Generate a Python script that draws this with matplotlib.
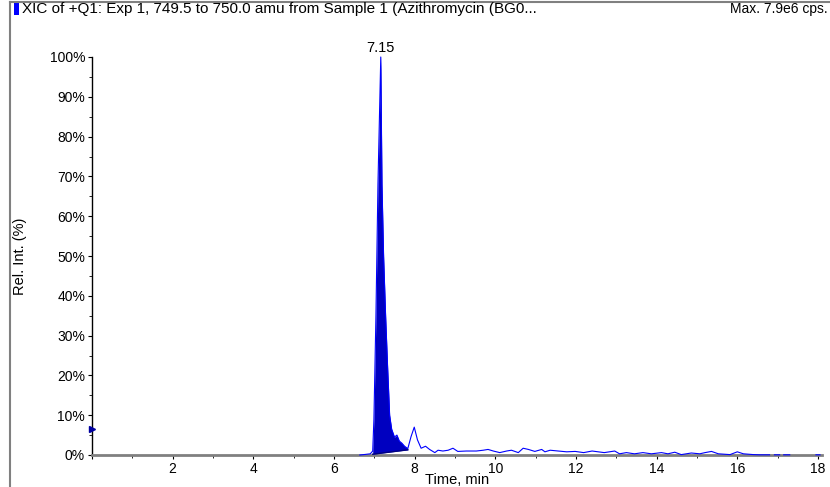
import numpy as np
import matplotlib
matplotlib.use("Agg")
import matplotlib.pyplot as plt
from matplotlib.lines import Line2D
from matplotlib.patches import Rectangle
from matplotlib.ticker import MultipleLocator, FuncFormatter

plt.rcParams['font.family'] = ['Liberation Sans', 'DejaVu Sans']

# XIC trace, time (min) vs relative intensity (%)
time_min = [6.64, 6.78, 6.90, 6.96, 6.99, 7.04, 7.09, 7.16, 7.19, 7.23, 7.28,
            7.33, 7.38, 7.43, 7.50, 7.56, 7.62, 7.68, 7.75, 7.83, 7.91, 7.99,
            8.07, 8.16, 8.27, 8.37, 8.50, 8.58, 8.70, 8.83, 8.95, 9.07, 9.28,
            9.53, 9.70, 9.82, 9.95, 10.11, 10.28, 10.40, 10.57, 10.69, 10.82,
            10.98, 11.15, 11.23, 11.36, 11.56, 11.77, 11.98, 12.19, 12.40,
            12.70, 12.96, 13.08, 13.25, 13.45, 13.66, 13.87, 14.12, 14.28,
            14.45, 14.61, 14.86, 15.07, 15.20, 15.36, 15.53, 15.82, 16.00,
            16.15, 16.40, 16.55, 16.80, 16.85, 16.92, 17.05, 17.10, 17.15,
            17.30, 17.35, 17.95, 18.05]
rel_int = [0.0, 0.15, 0.3, 1.0, 9.0, 35.0, 68.0, 100.0, 68.0, 50.0, 35.0,
           22.0, 10.0, 6.5, 4.5, 5.0, 3.5, 3.0, 2.2, 1.6, 4.6, 7.0,
           3.8, 1.7, 2.2, 1.4, 0.6, 1.2, 1.0, 1.2, 1.7, 0.9, 1.0,
           1.0, 1.2, 1.4, 1.0, 0.6, 1.0, 1.2, 0.6, 1.7, 1.4,
           0.9, 1.4, 0.8, 1.2, 1.0, 0.8, 0.9, 0.6, 1.0,
           0.6, 1.0, 0.3, 0.6, 0.3, 0.6, 0.3, 0.6, 0.3,
           0.7, 0.1, 0.5, 0.3, 0.6, 0.9, 0.3, 0.1, 0.8,
           0.3, 0.1, 0.05, 0.05, np.nan, 0.05, 0.05, np.nan, 0.05,
           0.05, np.nan, 0.05, 0.05]

# integrated peak region and its baseline
peak_start, peak_end = 6.96, 7.83
base_start, base_end = 0.2, 1.3
peak_label = "7.15"
peak_rt = 7.16

title = "XIC of +Q1: Exp 1, 749.5 to 750.0 amu from Sample 1 (Azithromycin (BG0..."
max_text = "Max. 7.9e6 cps."

t = np.array(time_min)
y = np.array(rel_int)

fig = plt.figure(figsize=(8.3, 4.87), dpi=100)
ax = fig.add_axes([92 / 830, 1 - 455 / 487, (822 - 92) / 830, (455 - 57) / 487])

# filled peak
mask = (t >= peak_start) & (t <= peak_end)
tp = t[mask]
bl = base_start + (tp - peak_start) * (base_end - base_start) / (peak_end - peak_start)
ax.fill_between(tp, bl, y[mask], color='#0000C0', lw=0, zorder=3)
ax.plot([peak_start, peak_end], [base_start, base_end], color='#000080', lw=1, zorder=4)

ax.plot(t, y, color='#0000FF', lw=0.8, zorder=5, clip_on=False)

ax.text(peak_rt, 100.6, peak_label, ha='center', va='bottom', fontsize=10.5)

ax.set_xlim(0, 18.1)
ax.set_ylim(0, 100)

for s in ['top', 'right']:
    ax.spines[s].set_visible(False)
ax.spines['left'].set_linewidth(1.0)
ax.spines['bottom'].set_color('#808080')
ax.spines['bottom'].set_linewidth(2.0)

ax.xaxis.set_major_locator(MultipleLocator(2))
ax.xaxis.set_minor_locator(MultipleLocator(1))
ax.yaxis.set_major_locator(MultipleLocator(10))
ax.yaxis.set_minor_locator(MultipleLocator(5))
ax.xaxis.set_major_formatter(FuncFormatter(lambda v, p: "" if v == 0 else "%d" % v))
ax.yaxis.set_major_formatter(FuncFormatter(lambda v, p: "%d%%" % v))
ax.tick_params(axis='both', which='major', length=3, width=0.8, labelsize=10, pad=2)
ax.tick_params(axis='both', which='minor', length=2, width=0.6)

ax.set_xlabel("Time, min", fontsize=10.5, labelpad=-2)
ax.set_ylabel("Rel. Int. (%)", fontsize=10.5, labelpad=16)

# marker on the y axis
ax.plot([0], [6.5], marker='>', color='#0000A0', markersize=5, clip_on=False, zorder=6)

# outer frame and title bar
fig.add_artist(Line2D([10 / 830, 1], [1 - 2 / 487, 1 - 2 / 487], color='#808080', lw=1.5))
fig.add_artist(Line2D([10 / 830, 10 / 830], [0, 1 - 2 / 487], color='#808080', lw=1.5))
fig.add_artist(Rectangle((14 / 830, 1 - 15 / 487), 5 / 830, 12 / 487,
                         transform=fig.transFigure, color='#0000FF', lw=0))
fig.text(22 / 830, 1 - 9 / 487, title, ha='left', va='center', fontsize=11)
fig.text(828 / 830, 1 - 9 / 487, max_text, ha='right', va='center', fontsize=10)

fig.savefig("out.png", dpi=100)
